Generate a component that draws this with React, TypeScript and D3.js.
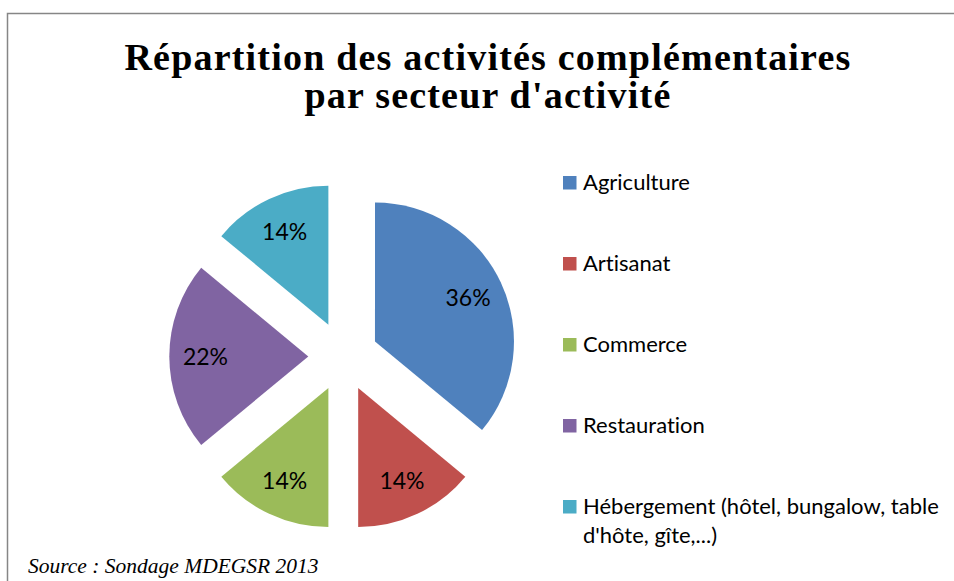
import { useEffect, useRef } from 'react';
import * as d3 from 'd3';

// values (percent of respondents)
const sectors = ['Agriculture', 'Artisanat', 'Commerce', 'Restauration', 'Hébergement'];
const shares = [36, 14, 14, 22, 14];
const colors = ['#4F81BD', '#C0504D', '#9BBB59', '#8064A2', '#4BACC6'];
const legendLines = [
  ['Agriculture'],
  ['Artisanat'],
  ['Commerce'],
  ['Restauration'],
  ['Hébergement (hôtel, bungalow, table', "d'hôte, gîte,...)"],
];
const titleLines = ['Répartition des activités complémentaires', "par secteur d'activité"];
const sourceText = 'Source : Sondage MDEGSR 2013';

const W = 954;
const H = 581;

export default function App() {
  const svgRef = useRef<SVGSVGElement>(null);

  useEffect(() => {
    if (!svgRef.current) return;
    const svg = d3.select(svgRef.current);
    svg.selectAll('*').remove();

    // chart frame (only the top and left edges are visible in the crop)
    svg
      .append('rect')
      .attr('x', 7.5)
      .attr('y', 13.5)
      .attr('width', W + 20)
      .attr('height', H + 20)
      .attr('fill', 'none')
      .attr('stroke', '#868686')
      .attr('stroke-width', 1.5);

    // title
    const title = svg
      .append('text')
      .attr('text-anchor', 'middle')
      .attr('font-family', '"Liberation Serif", "DejaVu Serif", serif')
      .attr('font-weight', 700)
      .attr('font-size', 38)
      .attr('letter-spacing', 1.2)
      .attr('fill', '#000');
    title
      .selectAll('tspan')
      .data(titleLines)
      .enter()
      .append('tspan')
      .attr('x', 488)
      .attr('y', (_, i) => 70 + i * 38)
      .text((d) => d);

    // pie
    const cx = 343.3;
    const cy = 356.4;
    const radius = 139;
    const explode = 35;

    const pie = d3
      .pie<number>()
      .sort(null)
      .value((d) => d);
    const arcs = pie(shares);
    const arc = d3.arc<d3.PieArcDatum<number>>().innerRadius(0).outerRadius(radius);

    const g = svg.append('g').attr('transform', `translate(${cx},${cy})`);

    const slice = g
      .selectAll('.slice')
      .data(arcs)
      .enter()
      .append('g')
      .attr('class', 'slice')
      .attr('transform', (d) => {
        const mid = (d.startAngle + d.endAngle) / 2;
        return `translate(${Math.sin(mid) * explode},${-Math.cos(mid) * explode})`;
      });

    slice
      .append('path')
      .attr('d', arc)
      .attr('fill', (_, i) => colors[i]);

    slice
      .append('text')
      .attr('x', (d) => Math.sin((d.startAngle + d.endAngle) / 2) * radius * 0.74)
      .attr('y', (d) => -Math.cos((d.startAngle + d.endAngle) / 2) * radius * 0.74)
      .attr('dy', '0.36em')
      .attr('text-anchor', 'middle')
      .attr('font-family', 'Lato, "Open Sans", sans-serif')
      .attr('font-size', 23)
      .attr('fill', '#000')
      .text((d) => `${d.data}%`);

    // legend
    const legend = svg
      .append('g')
      .selectAll('.item')
      .data(sectors)
      .enter()
      .append('g')
      .attr('class', 'item')
      .attr('transform', (_, i) => `translate(563,${189.5 + i * 81})`);

    legend
      .append('rect')
      .attr('x', 0)
      .attr('y', -13.5)
      .attr('width', 13.5)
      .attr('height', 13.5)
      .attr('fill', (_, i) => colors[i]);

    legend
      .append('text')
      .attr('font-family', 'Lato, "Open Sans", sans-serif')
      .attr('font-size', 22)
      .style('font-variant-ligatures', 'none')
      .attr('fill', '#000')
      .selectAll('tspan')
      .data((_, i) => legendLines[i])
      .enter()
      .append('tspan')
      .attr('x', 20)
      .attr('y', (_, j) => j * 29)
      .text((d) => d);

    // source note
    svg
      .append('text')
      .attr('x', 28)
      .attr('y', 573)
      .attr('font-family', '"Liberation Serif", serif')
      .attr('font-style', 'italic')
      .attr('font-size', 21.5)
      .attr('fill', '#000')
      .text(sourceText);
  }, []);

  return (
    <svg
      ref={svgRef}
      width={W}
      height={H}
      style={{ position: 'absolute', left: 0, top: 0, background: '#fff' }}
      role="img"
      aria-label="Répartition des activités complémentaires par secteur d'activité"
    />
  );
}
